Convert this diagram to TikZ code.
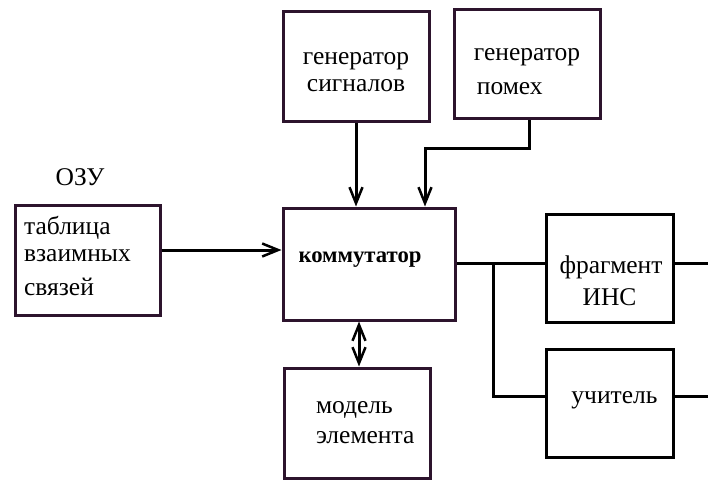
\documentclass[tikz,border=0pt]{standalone}
\usepackage{fontspec}
\setmainfont{Liberation Serif}
\usetikzlibrary{arrows.meta}
\definecolor{boxpurple}{RGB}{45,20,45}
\newcommand{\lines}[3]{\raisebox{#1}[0pt][0pt]{\begin{tabular}{@{}#2@{}}#3\end{tabular}}}
\newcommand{\oneline}[2]{\raisebox{#1}[0pt][0pt]{#2}}
\tikzset{
  txt/.style={font=\fontsize{25.5}{30}\selectfont},
  blk/.style={draw=boxpurple, line width=3pt, rectangle, inner sep=0pt, txt},
  blkb/.style={blk, draw=black},
  conn/.style={draw=black, line width=3pt},
  tip/.tip={Straight Barb[length=16pt,width=13pt,line width=2.5pt]},
  arr/.style={conn, -tip},
  darr/.style={conn, tip-tip},
  lbl/.style={txt, inner sep=0pt}
}
\begin{document}
\begin{tikzpicture}[x=1pt,y=-1pt]
\useasboundingbox (0,0) rectangle (708,479);
\fill[white] (0,0) rectangle (708,479);
% boxes
\node[blk, minimum width=145pt, minimum height=110pt] (ozu) at (87.5,260) {\lines{-5pt}{l}{таблица\\[-3pt]взаимных\\[4pt]связей}\hspace*{20pt}};
\node[lbl] (ozulbl) at (80,177) {ОЗУ};
\node[blk, minimum width=172pt, minimum height=112pt] (kom) at (369,264) {\hspace*{-18pt}\oneline{1.5pt}{\fontsize{22.7}{27}\selectfont\bfseries коммутатор}};
\node[blk, minimum width=146pt, minimum height=110pt] (gs) at (356,66) {\lines{-12.5pt}{c}{генератор\\[-3pt]сигналов}};
\node[blk, minimum width=146pt, minimum height=109pt] (gp) at (527,64) {\lines{-13.5pt}{l}{генератор\\[4pt]\hspace*{3pt}помех}};
\node[blk, minimum width=146pt, minimum height=110pt, text width=82pt, align=left] (mod) at (357,423) {модель\\элемента};
\node[blkb, minimum width=127pt, minimum height=108pt] (fr) at (609.5,268) {\lines{-22pt}{c}{\hspace*{3pt}фрагмент\\[2pt]ИНС}};
\node[blkb, minimum width=127pt, minimum height=108pt] (uc) at (609.5,403) {\hspace*{10pt}\oneline{0pt}{учитель}};
% coordinates
\coordinate (br) at (493,263);
\coordinate (frout) at (708,263);
\coordinate (ucout) at (708,396);
% connectors
\draw[arr] (ozu.east |- 0,250) -- (kom.west |- 0,250);
\draw[arr] (gs.south) -- (gs.south |- kom.north);
\draw[arr] (gp.south -| 529,0) |- (425,148) -- (425,0 |- kom.north);
\draw[darr] (359,0 |- kom.south) -- (359,0 |- mod.north);
\draw[conn] (kom.east |- br) -- (br) -- (fr.west |- br);
\draw[conn] (br) |- (uc.west |- 0,396);
\draw[conn] (fr.east |- frout) -- (frout);
\draw[conn] (uc.east |- ucout) -- (ucout);
\end{tikzpicture}
\end{document}
